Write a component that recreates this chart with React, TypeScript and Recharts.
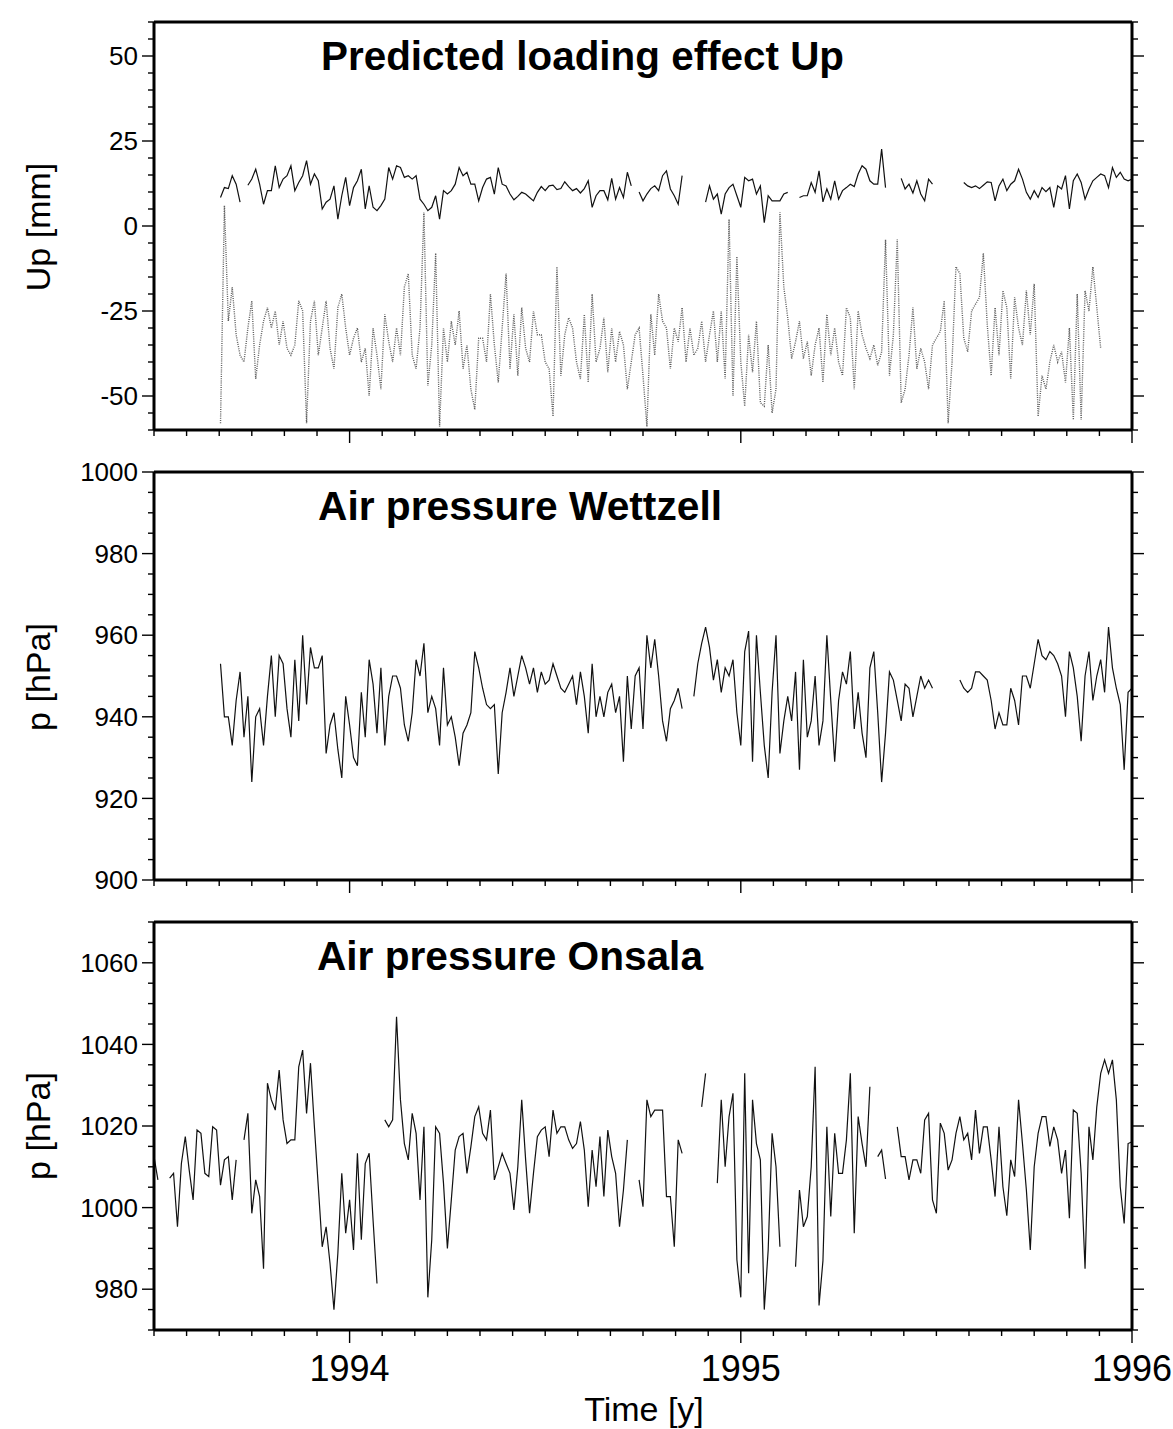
import React from 'react';
import { LineChart, Line, XAxis, YAxis } from 'recharts';

// daily-ish series resampled on a 0.01 y grid
const STEP = 0.01;
const T0_UP = 1993.67;
const T0_WETTZELL = 1993.67;
const T0_ONSALA = 1993.5;

const X_DOMAIN: [number, number] = [1993.5, 1996];
const YEAR_LABELS = ['1994', '1995', '1996'];
const MONTH_TICKS = Array.from({ length: 31 }, (_, i) => +(1993.5 + i / 12).toFixed(4));

const UP_TICKS = Array.from({ length: 25 }, (_, i) => -60 + i * 5);
const UP_LABELS = [-50, -25, 0, 25, 50];
const WETTZELL_TICKS = Array.from({ length: 21 }, (_, i) => 900 + i * 5);
const WETTZELL_LABELS = [900, 920, 940, 960, 980, 1000];
const ONSALA_TICKS = Array.from({ length: 21 }, (_, i) => 970 + i * 5);
const ONSALA_LABELS = [980, 1000, 1020, 1040, 1060];

// predicted loading effect (solid black), mm
const UP_SOLID = [
  8.4, 11.3, 11, 14.8, 12.3, 7, null, 12, 13.8, 16.7,
  12.3, 6.4, 10.4, 10.4, 17.7, 11.3, 13.8, 14.8, 17.7, 10.4,
  12.8, 14.8, 19.2, 12.3, 15.3, 13.3, 5, 7, 7.9, 11.8,
  2, 8.9, 14.3, 6, 11.3, 13.3, 16.7, 5, 11.8, 5.5,
  4.5, 6, 7.9, 17.2, 13.8, 17.7, 17.2, 14.3, 14.8, 13.8,
  14.8, 7.9, 6.4, 4.5, 5.5, 8.9, 2, 10.4, 9.4, 10.4,
  12.3, 17.2, 14.8, 15.8, 12.3, 12.3, 7.4, 11.3, 13.8, 14.3,
  9.4, 17.2, 12.3, 11.8, 9.4, 7.7, 8.7, 9.9, 9.4, 8.4,
  7.4, 9.9, 11.6, 10.4, 11.8, 12, 10.7, 11, 13, 11.6,
  10.4, 11, 9.7, 11, 13.3, 5.5, 8.9, 10.4, 10.4, 7.7,
  14, 7.9, 11.3, 8.4, 15.8, 11.8, null, 10, 7.4, 9.4,
  11, 11.8, 10.4, 14.8, 16.2, 10.9, 8.9, 6.4, 14.8, null,
  null, null, null, null, 7, 11.8, 7.9, 9.4, 3.5, 9.4,
  11.3, 12.3, 8.9, 5.5, 14.3, 13.3, 13.8, 9.4, 11.8, 1,
  8.9, 7.4, 7.4, 7.4, 9.4, 9.9, null, null, 8.4, 8.9,
  8.9, 12.8, 9.9, 16.2, 7.1, 10.9, 7.9, 13.3, 7.9, 10.4,
  11.3, 12.3, 11.6, 15.3, 17.7, 16.7, 13.3, 12.3, 12.3, 22.6,
  11.3, null, null, null, 14, 10.9, 12.3, 9.7, 13.3, 9.4,
  7.4, 13.8, 12.3, null, null, null, null, null, null, null,
  12.8, 11.8, 11.3, 11.8, 11, 12, 13, 12.8, 7.4, 11.8,
  13.8, 10.4, 12.3, 13.3, 16.7, 13.8, 9.9, 7.9, 10.4, 8.4,
  11.3, 10.1, 11.3, 5.5, 11.8, 10.9, 14.8, 5, 13.3, 15.3,
  12.8, 7.9, 10.9, 13.3, 14.3, 15.3, 14.8, 11.3, 17.2, 14.3,
  15.8, 13.8, 13.3, 13.8,
];

// second Up series (grey dotted), mm
const UP_DOTTED = [
  -58, 6, -28, -18, -32, -38, -40, -30, -22, -45,
  -35, -28, -24, -30, -25, -35, -28, -36, -38, -35,
  -22, -25, -58, -28, -22, -38, -30, -22, -36, -42,
  -24, -20, -30, -38, -33, -30, -40, -36, -50, -30,
  -38, -48, -26, -34, -40, -30, -38, -18, -14, -38,
  -42, -30, 4, -47, -35, -8, -59, -30, -40, -28,
  -35, -25, -42, -35, -48, -54, -33, -33, -40, -20,
  -35, -46, -30, -14, -42, -26, -44, -24, -36, -40,
  -25, -32, -32, -40, -42, -56, -12, -44, -32, -27,
  -30, -40, -45, -26, -46, -20, -40, -36, -27, -43,
  -30, -40, -31, -35, -48, -40, -32, -30, -44, -59,
  -26, -38, -20, -28, -30, -42, -30, -34, -24, -40,
  -30, -38, -36, -28, -40, -32, -25, -40, -25, -45,
  2, -50, -9, -40, -53, -32, -43, -28, -52, -53,
  -35, -55, -48, 4, -18, -27, -39, -34, -28, -39,
  -34, -44, -35, -30, -46, -26, -38, -30, -40, -44,
  -24, -27, -48, -25, -32, -36, -39, -35, -41, -37,
  -4, -44, -32, -4, -52, -48, -38, -24, -42, -36,
  -40, -48, -35, -33, -31, -22, -58, -40, -12, -14,
  -33, -37, -25, -23, -21, -8, -29, -44, -24, -38,
  -19, -24, -45, -21, -30, -35, -19, -32, -17, -56,
  -44, -48, -40, -35, -40, -37, -46, -30, -57, -20,
  -57, -19, -25, -12, -24, -36,
];

// air pressure Wettzell, hPa
const WETTZELL = [
  953, 940, 940, 933, 944, 951, 935, 945, 924, 940,
  942, 933, 945, 955, 940, 955, 953, 942, 935, 954,
  939, 960, 943, 957, 952, 952, 955, 931, 938, 941,
  932, 925, 945, 938, 930, 928, 946, 935, 954, 948,
  936, 952, 933, 945, 950, 950, 947, 938, 934, 941,
  954, 950, 958, 941, 945, 942, 933, 952, 938, 940,
  935, 928, 936, 938, 941, 956, 952, 947, 943, 942,
  943, 926, 941, 946, 952, 945, 950, 955, 952, 948,
  952, 946, 951, 948, 949, 953, 950, 947, 946, 948,
  950, 943, 951, 945, 936, 953, 940, 945, 940, 946,
  948, 941, 945, 929, 950, 937, 950, 952, 937, 960,
  952, 959, 950, 939, 934, 942, 944, 947, 942, null,
  null, 945, 953, 958, 962, 957, 949, 954, 946, 952,
  950, 954, 941, 933, 956, 961, 929, 960, 946, 933,
  925, 946, 960, 931, 939, 945, 939, 951, 927, 954,
  935, 939, 950, 933, 939, 960, 944, 929, 944, 951,
  948, 956, 937, 946, 936, 930, 952, 956, 941, 924,
  936, 951, 949, 944, 939, 948, 947, 940, 945, 950,
  947, 949, 947, null, null, null, null, null, null, 949,
  947, 946, 947, 951, 951, 950, 949, 944, 937, 941,
  938, 938, 947, 944, 938, 950, 950, 947, 953, 959,
  955, 954, 956, 955, 953, 950, 940, 956, 952, 945,
  934, 950, 956, 944, 950, 954, 946, 962, 952, 947,
  943, 927, 946, 947,
];

// air pressure Onsala, hPa
const ONSALA = [
  1012.5, 1006.8, null, null, 1007.2, 1008.4, 995.3, 1010.8, 1017.4, 1009.2,
  1001.9, 1019, 1018.2, 1008.4, 1007.6, 1019.8, 1019, 1005.5, 1011.7, 1012.5,
  1001.9, 1011.7, null, 1016.6, 1023.1, 998.6, 1006.8, 1002.7, 985, 1030.5,
  1026.4, 1023.9, 1033.7, 1021.5, 1015.7, 1016.6, 1016.6, 1034.5, 1038.6, 1023.1,
  1035.4, 1019.8, 1005.1, 990.4, 995.3, 986.3, 975, 988.8, 1008.4, 993.7,
  1001.9, 989.6, 1013.3, 992.1, 1010.8, 1013.3, 996.9, 981.4, null, 1021.5,
  1019.8, 1021.5, 1046.8, 1026.4, 1015.7, 1011.7, 1023.1, 1018.2, 1001.9, 1019.8,
  978, 992.1, 1019.8, 1018.2, 1006, 990, 1001.9, 1014.1, 1017.4, 1018.2,
  1008.4, 1014.9, 1022.3, 1024.7, 1018.2, 1016.6, 1023.9, 1006.8, 1010, 1013.3,
  1010.8, 1008.4, 999.4, 1010, 1026.4, 1011.7, 998.6, 1008.4, 1017.4, 1019,
  1019.8, 1012.5, 1023.9, 1018.2, 1019.8, 1019.8, 1016.6, 1014.5, 1015.7, 1021.1,
  1014.1, 1000.2, 1014.1, 1005.1, 1017.4, 1002.7, 1019, 1012.5, 1008.4, 995.3,
  1004.3, 1016.6, null, null, 1006.8, 1000.2, 1026.4, 1022.3, 1023.9, 1023.9,
  1023.9, 1002.7, 1002.7, 990.4, 1016.6, 1013.3, null, null, null, null,
  1024.7, 1032.9, null, null, 1006, 1026.4, 1010, 1022.3, 1028, 987.2,
  978, 1032.9, 983.9, 1026.4, 1015.7, 1011.7, 975, 989.6, 1018.2, 1010,
  990.4, null, null, null, 985.5, 1004.3, 995.3, 997.8, 1010, 1034.5,
  976, 987, 1019.8, 997.8, 1018.2, 1008.4, 1008.4, 1016.6, 1032.9, 993.7,
  1022.3, 1015.7, 1010, 1029.6, null, 1012.5, 1014.1, 1007, null, null,
  1019.8, 1012.5, 1012.5, 1006.8, 1011.7, 1011.7, 1008.4, 1021.5, 1023.1, 1001.9,
  998.6, 1020.7, 1018.2, 1009.2, 1011.7, 1018.2, 1022.3, 1016.6, 1018.2, 1011.7,
  1023.9, 1013.3, 1019.8, 1019.8, 1011.7, 1002.7, 1019.8, 1005.1, 998, 1011.7,
  1007.6, 1026.4, 1015.7, 1004.3, 989.6, 1010, 1018.2, 1022.3, 1022.3, 1015,
  1019.8, 1016.6, 1008.4, 1014.1, 997.4, 1023.9, 1023.1, 1008.4, 985, 1019.8,
  1011.7, 1024.7, 1032.9, 1036.2, 1032.9, 1036.2, 1026.4, 1005.1, 996.1, 1015.7,
  1016.1,
];

const FONT = '"Liberation Sans", Arial, Helvetica, sans-serif';
const W = 1173;

function buildRows(t0: number, cols: Record<string, (number | null)[]>) {
  const n = Math.max(...Object.values(cols).map((c) => c.length));
  const rows: any[] = [];
  for (let i = 0; i < n; i++) {
    const row: any = { t: +(t0 + i * STEP).toFixed(3) };
    for (const k of Object.keys(cols)) row[k] = cols[k][i] ?? null;
    rows.push(row);
  }
  return rows;
}

const upData = buildRows(T0_UP, { solid: UP_SOLID, dotted: UP_DOTTED });
const wettzellData = buildRows(T0_WETTZELL, { p: WETTZELL });
const onsalaData = buildRows(T0_ONSALA, { p: ONSALA });

const frame = { stroke: '#000', strokeWidth: 3 };

const xTick = (side: 'top' | 'bottom', showYears: boolean) => (props: any) => {
  const { x, y, payload } = props;
  const v = payload.value;
  const major = Math.abs(v - Math.round(v)) < 1e-6;
  const dir = side === 'top' ? -1 : 1;
  const len = major ? 13 : 6;
  const label = String(Math.round(v));
  return (
    <g>
      <line x1={x} x2={x} y1={y} y2={y + dir * len} stroke="#000" strokeWidth={1.4} />
      {showYears && major && YEAR_LABELS.includes(label) && (
        <text x={x} y={y + 51} textAnchor="middle" fontSize={36} fontFamily={FONT} fill="#000">
          {label}
        </text>
      )}
    </g>
  );
};

const yTick = (side: 'left' | 'right', labels: number[]) => (props: any) => {
  const { x, y, payload } = props;
  const v = payload.value;
  const major = labels.includes(v);
  const dir = side === 'left' ? -1 : 1;
  const len = major ? 12 : 6;
  return (
    <g>
      <line x1={x} x2={x + dir * len} y1={y} y2={y} stroke="#000" strokeWidth={1.4} />
      {side === 'left' && major && (
        <text x={x - 16} y={y} dy="0.35em" textAnchor="end" fontSize={26} fontFamily={FONT} fill="#000">
          {v}
        </text>
      )}
    </g>
  );
};

type SeriesDef = { key: string; stroke: string; width: number; dash?: string };

function Panel(props: {
  top: number;
  height: number;
  bottom: number;
  data: any[];
  domain: [number, number];
  ticks: number[];
  labels: number[];
  series: SeriesDef[];
  showYears?: boolean;
}) {
  const { top, height, bottom, data, domain, ticks, labels, series, showYears = false } = props;
  return (
    <div style={{ position: 'absolute', left: 0, top }}>
      <LineChart width={W} height={height} data={data} margin={{ top: 12, right: 21, bottom, left: 94 }}>
        <XAxis
          xAxisId="b"
          type="number"
          dataKey="t"
          domain={X_DOMAIN}
          allowDataOverflow
          ticks={MONTH_TICKS}
          interval={0}
          height={10}
          tickSize={0}
          tickMargin={0}
          tickLine={false}
          axisLine={frame}
          tick={xTick('bottom', showYears)}
        />
        <XAxis
          xAxisId="t"
          orientation="top"
          type="number"
          domain={X_DOMAIN}
          allowDataOverflow
          ticks={MONTH_TICKS}
          interval={0}
          height={10}
          tickSize={0}
          tickMargin={0}
          tickLine={false}
          axisLine={frame}
          tick={xTick('top', false)}
        />
        <YAxis
          yAxisId="l"
          type="number"
          domain={domain}
          allowDataOverflow
          ticks={ticks}
          interval={0}
          width={60}
          tickSize={0}
          tickMargin={0}
          tickLine={false}
          axisLine={frame}
          tick={yTick('left', labels)}
        />
        <YAxis
          yAxisId="r"
          orientation="right"
          type="number"
          domain={domain}
          allowDataOverflow
          ticks={ticks}
          interval={0}
          width={20}
          tickSize={0}
          tickMargin={0}
          tickLine={false}
          axisLine={frame}
          tick={yTick('right', labels)}
        />
        {series.map((s) => (
          <Line
            key={s.key}
            xAxisId="b"
            yAxisId="l"
            type="linear"
            dataKey={s.key}
            stroke={s.stroke}
            strokeWidth={s.width}
            strokeDasharray={s.dash}
            dot={false}
            activeDot={false}
            connectNulls={false}
            isAnimationActive={false}
          />
        ))}
      </LineChart>
    </div>
  );
}

export default function App() {
  const titleStyle = { fontFamily: FONT, fontWeight: 700, fontSize: 40, fill: '#000' } as const;
  const axisStyle = { fontFamily: FONT, fontSize: 34, fill: '#000' } as const;
  return (
    <div style={{ position: 'absolute', left: 0, top: 0, width: W, height: 1429, background: '#fff' }}>
      <Panel
        top={0}
        height={450}
        bottom={10}
        data={upData}
        domain={[-60, 60]}
        ticks={UP_TICKS}
        labels={UP_LABELS}
        series={[
          { key: 'dotted', stroke: '#5e5e5e', width: 1.4, dash: '1 1.2' },
          { key: 'solid', stroke: '#111', width: 1.2 },
        ]}
      />
      <Panel
        top={450}
        height={450}
        bottom={10}
        data={wettzellData}
        domain={[900, 1000]}
        ticks={WETTZELL_TICKS}
        labels={WETTZELL_LABELS}
        series={[{ key: 'p', stroke: '#111', width: 1.2 }]}
      />
      <Panel
        top={900}
        height={529}
        bottom={89}
        data={onsalaData}
        domain={[970, 1070]}
        ticks={ONSALA_TICKS}
        labels={ONSALA_LABELS}
        series={[{ key: 'p', stroke: '#111', width: 1.2 }]}
        showYears
      />
      <svg width={W} height={1429} style={{ position: 'absolute', left: 0, top: 0, pointerEvents: 'none' }}>
        <text x={321} y={70} {...titleStyle} textLength={523} lengthAdjust="spacingAndGlyphs">
          Predicted loading effect Up
        </text>
        <text x={318} y={520} {...titleStyle} textLength={404} lengthAdjust="spacingAndGlyphs">
          Air pressure Wettzell
        </text>
        <text x={317} y={970} {...titleStyle} textLength={386} lengthAdjust="spacingAndGlyphs">
          Air pressure Onsala
        </text>
        <text transform="translate(50,227) rotate(-90)" textAnchor="middle" {...axisStyle}>
          Up [mm]
        </text>
        <text transform="translate(50,677) rotate(-90)" textAnchor="middle" {...axisStyle}>
          p [hPa]
        </text>
        <text transform="translate(50,1126) rotate(-90)" textAnchor="middle" {...axisStyle}>
          p [hPa]
        </text>
        <text x={644} y={1421} textAnchor="middle" {...axisStyle}>
          Time [y]
        </text>
      </svg>
    </div>
  );
}
